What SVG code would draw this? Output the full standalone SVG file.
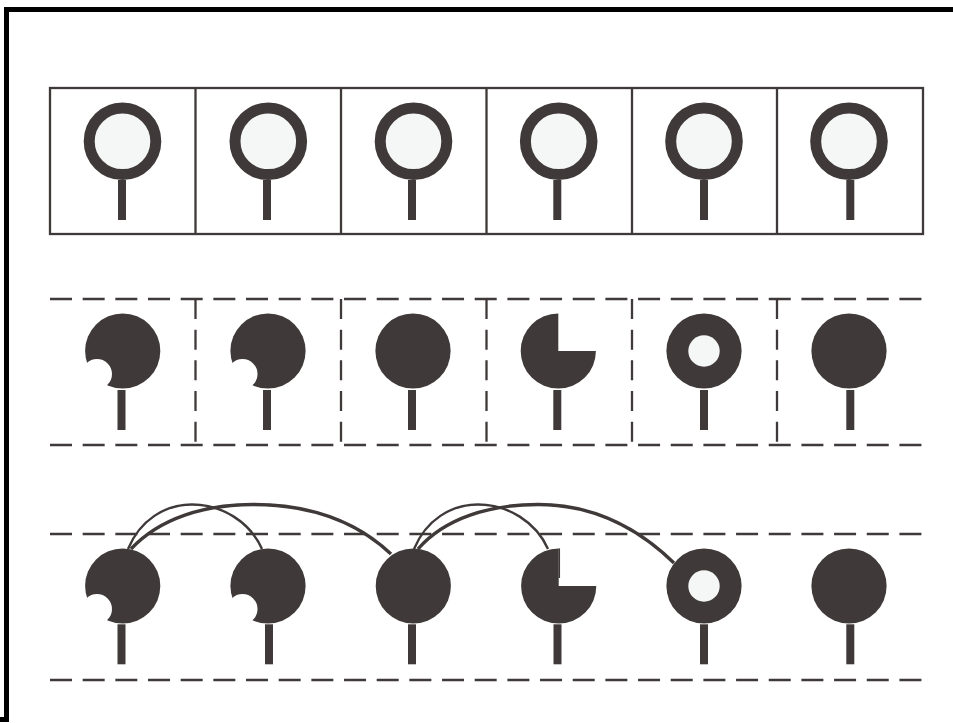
<svg xmlns="http://www.w3.org/2000/svg" width="953" height="723" viewBox="0 0 953 723">
<style>
.d{fill:#3f3a39}
.bulb{fill:#f5f7f6;stroke:#3f3a39;stroke-width:11}
.stem{fill:#3f3a39}
.hole{fill:#f5f7f6}
.bite{fill:#fff}
.box{fill:none;stroke:#3f3a39;stroke-width:2.300}
.hd{fill:none;stroke:#3f3a39;stroke-width:2.300;stroke-dasharray:22 10.67}
.vd{fill:none;stroke:#3f3a39;stroke-width:2.300;stroke-dasharray:20 10.67}
.thin{fill:none;stroke:#3f3a39;stroke-width:2.400}
.thick{fill:none;stroke:#3f3a39;stroke-width:3.400}
</style>
<rect width="953" height="723" fill="#fff"/>
<path id="frame" d="M953 9.500H6.500V719.500H0" fill="none" stroke="#000" stroke-width="5"/>
<g id="row1-frame">
<rect class="box" x="50" y="88" width="873" height="146"/>
<path class="box" d="M195.500 88V234M341 88V234M486.500 88V234M632 88V234M777 88V234"/>
</g>
<g id="row2-frame">
<path class="hd" d="M50 299H923M50 445H923"/>
<path class="vd" d="M195.500 299V445M341 299V445M486.500 299V445M632 299V445M777 299V445"/>
</g>
<g id="row3-frame">
<path class="hd" d="M50 534H923M50 680H923"/>
</g>
<g id="connectors">
<path class="thin" d="M128 549C140 520 165 504.500 192 504.500C222 504.500 250 522 262 549"/>
<path class="thick" d="M131 549C160 518 205 504.500 253 504.500C310 504.500 355 520 391 554"/>
<path class="thin" d="M414 549C426 520 451 504.500 478 504.500C508 504.500 536 522 548 549"/>
<path class="thick" d="M418 549C445 518 490 504.500 538 504.500C590 504.500 635 525 674 563"/>
<path class="thin" style="stroke-width:1.500" d="M559.300 548.400V578"/>
</g>
<g id="n1-1"><circle class="bulb" cx="122.500" cy="141.300" r="33.300"/><rect class="stem" x="118" y="180" width="8" height="40"/></g>
<g id="n1-2"><circle class="bulb" cx="268.300" cy="141.300" r="33.300"/><rect class="stem" x="263" y="180" width="8" height="40"/></g>
<g id="n1-3"><circle class="bulb" cx="413.500" cy="141.300" r="33.300"/><rect class="stem" x="408" y="180" width="8" height="40"/></g>
<g id="n1-4"><circle class="bulb" cx="558.700" cy="141.300" r="33.300"/><rect class="stem" x="553.300" y="180" width="8" height="40"/></g>
<g id="n1-5"><circle class="bulb" cx="704" cy="141.300" r="33.300"/><rect class="stem" x="700" y="180" width="8" height="40"/></g>
<g id="n1-6"><circle class="bulb" cx="849" cy="141.300" r="33.300"/><rect class="stem" x="846.300" y="180" width="8" height="40"/></g>
<g id="n2-1"><circle class="d" cx="122.700" cy="351" r="37.600"/><circle class="bite" cx="97" cy="374" r="15"/><rect class="stem" x="117.500" y="390" width="8" height="40"/></g>
<g id="n2-2"><circle class="d" cx="268" cy="351" r="37.600"/><circle class="bite" cx="242.500" cy="374" r="15"/><rect class="stem" x="263" y="390" width="8" height="40"/></g>
<g id="n2-3"><circle class="d" cx="413" cy="351" r="37.600"/><rect class="stem" x="408" y="390" width="8" height="40"/></g>
<g id="n2-4"><path class="d" d="M558.300 313.400V351H595.900A37.600 37.600 0 1 1 558.300 313.400Z"/><rect class="stem" x="553.300" y="390" width="8" height="40"/></g>
<g id="n2-5"><circle class="d" cx="704" cy="351" r="37.600"/><circle class="hole" cx="704" cy="351" r="15.700"/><rect class="stem" x="700" y="390" width="8" height="40"/></g>
<g id="n2-6"><circle class="d" cx="849" cy="351" r="37.600"/><rect class="stem" x="846.300" y="390" width="8" height="40"/></g>
<g id="n3-1"><circle class="d" cx="122.700" cy="586" r="37.600"/><circle class="bite" cx="97" cy="609" r="15"/><rect class="stem" x="117.500" y="624.300" width="8" height="40"/></g>
<g id="n3-2"><circle class="d" cx="268" cy="586" r="37.600"/><circle class="bite" cx="242.500" cy="609" r="15"/><rect class="stem" x="265" y="624.300" width="8" height="40"/></g>
<g id="n3-3"><circle class="d" cx="413.300" cy="586" r="37.600"/><rect class="stem" x="408" y="624.300" width="8" height="40"/></g>
<g id="n3-4"><path class="d" d="M558.700 548.400V586H596.300A37.600 37.600 0 1 1 558.700 548.400Z"/><rect class="stem" x="553.500" y="624.300" width="8" height="40"/></g>
<g id="n3-5"><circle class="d" cx="704" cy="586" r="37.600"/><circle class="hole" cx="704" cy="586" r="15.700"/><rect class="stem" x="700" y="624.300" width="8" height="40"/></g>
<g id="n3-6"><circle class="d" cx="849" cy="586" r="37.600"/><rect class="stem" x="846.300" y="624.300" width="8" height="40"/></g>
</svg>
